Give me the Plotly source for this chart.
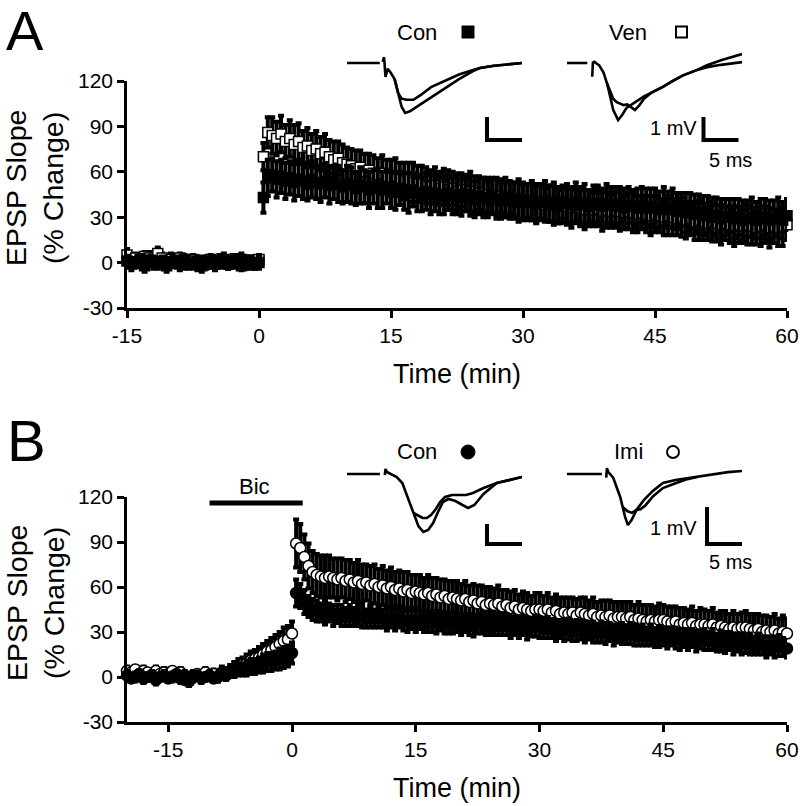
import plotly.graph_objects as go

W, H = 800, 806
FONT = "Arial, Liberation Sans, sans-serif"


def px_x(x):
    return x / W


def px_y(y):
    return 1 - y / H


#%% DATA - sampling times (min)
PRE_TIME_A = [-15, -14.5, -14, -13.5, -13, -12.5, -12, -11.5, -11, -10.5,
              -10, -9.5, -9, -8.5, -8, -7.5, -7, -6.5, -6, -5.5,
              -5, -4.5, -4, -3.5, -3, -2.5, -2, -1.5, -1, -0.5, 0]
PRE_TIME_B = [-20, -19.5, -19, -18.5, -18, -17.5, -17, -16.5, -16, -15.5] + PRE_TIME_A
POST_TIME = [0.5, 1, 1.5, 2, 2.5, 3, 3.5, 4, 4.5, 5,
             5.5, 6, 6.5, 7, 7.5, 8, 8.5, 9, 9.5, 10,
             10.5, 11, 11.5, 12, 12.5, 13, 13.5, 14, 14.5, 15,
             15.5, 16, 16.5, 17, 17.5, 18, 18.5, 19, 19.5, 20,
             20.5, 21, 21.5, 22, 22.5, 23, 23.5, 24, 24.5, 25,
             25.5, 26, 26.5, 27, 27.5, 28, 28.5, 29, 29.5, 30,
             30.5, 31, 31.5, 32, 32.5, 33, 33.5, 34, 34.5, 35,
             35.5, 36, 36.5, 37, 37.5, 38, 38.5, 39, 39.5, 40,
             40.5, 41, 41.5, 42, 42.5, 43, 43.5, 44, 44.5, 45,
             45.5, 46, 46.5, 47, 47.5, 48, 48.5, 49, 49.5, 50,
             50.5, 51, 51.5, 52, 52.5, 53, 53.5, 54, 54.5, 55,
             55.5, 56, 56.5, 57, 57.5, 58, 58.5, 59, 59.5, 60]

X_TICKS = [-15, 0, 15, 30, 45, 60]
X_TICK_TEXT = ["-15", "0", "15", "30", "45", "60"]
Y_TICKS = [-30, 0, 30, 60, 90, 120]
Y_TICK_TEXT = ["-30", "0", "30", "60", "90", "120"]

#%% PANEL A - Con (filled squares) / Ven (open squares), EPSP slope % change
A_CON_PRE = [1, -1, 0, 2, -2, 1, 0, -1, 1, -2, 0, 1, -1, 2, 0, -1,
             1, -2, 0, 1, -1, 0, 2, -1, 0, 1, -2, 1, 0, -1, 0]
A_CON_PRE_ERR = [3, 4, 3, 3, 4, 3, 4, 3, 3, 4, 3, 3, 4, 3, 4, 3,
                 3, 4, 3, 3, 4, 3, 4, 3, 3, 4, 3, 3, 4, 3, 4]
A_VEN_PRE = [5, 2, 3, 1, 4, 3, 2, 6, 3, 0, 2, 1, 3, 0, 1, 2,
             -1, 1, 0, 2, -1, 1, 0, -1, 1, 0, 2, -1, 1, 0, 2]
A_VEN_PRE_ERR = [4, 3, 3, 4, 3, 4, 3, 4, 3, 3, 4, 3, 3, 4, 3, 3,
                 4, 3, 4, 3, 3, 4, 3, 3, 4, 3, 4, 3, 3, 4, 3]

A_CON_POST = [43, 56, 58, 55, 57, 54, 56, 53, 55, 54,
              52, 55, 53, 52, 54, 51, 53, 52, 50, 52,
              51, 49, 51, 50, 48, 50, 49, 48, 50, 48,
              47, 49, 47, 46, 48, 46, 45, 47, 45, 46,
              44, 45, 46, 44, 45, 43, 45, 44, 42, 44,
              43, 42, 44, 42, 41, 43, 41, 42, 40, 41,
              40, 41, 39, 40, 41, 39, 40, 38, 40, 39,
              38, 40, 38, 39, 37, 39, 38, 37, 39, 38,
              37, 38, 36, 38, 37, 36, 38, 36, 37, 36,
              35, 37, 35, 36, 34, 35, 33, 34, 32, 33,
              31, 32, 30, 31, 29, 30, 31, 29, 30, 28,
              29, 30, 28, 29, 30, 28, 29, 30, 28, 31]
A_CON_POST_ERR = [10, 12, 11, 12, 11, 12, 11, 12, 11, 12,
                  11, 12, 11, 12, 11, 12, 11, 12, 11, 12,
                  12, 11, 12, 11, 12, 11, 13, 12, 11, 12,
                  12, 11, 12, 13, 11, 12, 11, 12, 13, 12,
                  12, 13, 11, 12, 13, 12, 11, 13, 12, 12,
                  13, 12, 11, 13, 12, 13, 12, 11, 13, 12,
                  12, 13, 12, 11, 13, 12, 13, 12, 11, 13,
                  12, 13, 12, 13, 11, 12, 13, 12, 13, 12,
                  13, 12, 13, 12, 11, 13, 12, 13, 12, 13,
                  12, 13, 12, 13, 12, 11, 13, 12, 13, 12,
                  13, 12, 13, 12, 13, 12, 11, 13, 12, 13,
                  12, 13, 12, 13, 12, 13, 12, 13, 12, 11]
A_VEN_POST = [70, 86, 84, 82, 85, 80, 82, 78, 80, 76,
              77, 74, 75, 72, 73, 70, 68, 69, 66, 65,
              64, 62, 63, 60, 61, 59, 58, 59, 57, 56,
              57, 55, 54, 55, 53, 52, 53, 51, 50, 51,
              49, 50, 48, 49, 47, 48, 46, 47, 45, 46,
              44, 45, 44, 43, 44, 42, 43, 41, 42, 40,
              41, 40, 39, 40, 38, 39, 38, 37, 38, 37,
              36, 37, 36, 35, 36, 35, 36, 34, 35, 34,
              35, 34, 33, 34, 33, 32, 33, 32, 31, 32,
              31, 30, 31, 30, 29, 30, 28, 29, 27, 28,
              27, 26, 27, 26, 25, 26, 25, 24, 25, 24,
              25, 24, 23, 24, 25, 23, 24, 23, 24, 25]
A_VEN_POST_ERR = [9, 10, 12, 11, 12, 11, 12, 13, 12, 11,
                  12, 11, 12, 11, 12, 11, 12, 11, 12, 11,
                  11, 12, 11, 12, 11, 12, 11, 12, 11, 12,
                  12, 11, 12, 11, 13, 12, 11, 12, 11, 12,
                  11, 12, 13, 11, 12, 11, 12, 13, 12, 11,
                  12, 11, 12, 13, 11, 12, 11, 12, 13, 12,
                  11, 12, 13, 12, 11, 12, 13, 11, 12, 12,
                  13, 11, 12, 13, 12, 11, 12, 13, 12, 11,
                  12, 13, 11, 12, 13, 12, 11, 12, 13, 12,
                  11, 12, 13, 12, 11, 13, 12, 11, 12, 13,
                  12, 11, 13, 12, 13, 11, 12, 13, 12, 11,
                  13, 12, 11, 13, 12, 13, 11, 12, 13, 10]

#%% PANEL B - Con (filled circles) / Imi (open circles), Bic applied -10 to 0 min
B_CON_PRE = [1, -1, 0, 2, -1, 0, 1, -2, 0, 1,
             -1, 0, 2, -1, 1, -2, 0, 1, -1, 0,
             1, -1, 0, 2, 1, 3, 4, 5, 5, 6,
             7, 7, 8, 9, 10, 10, 11, 12, 13, 14, 16]
B_CON_PRE_ERR = [3, 2, 3, 2, 3, 2, 3, 3, 2, 3,
                 2, 3, 2, 3, 3, 2, 3, 2, 3, 2,
                 3, 2, 3, 3, 3, 3, 4, 4, 4, 5,
                 5, 5, 5, 6, 6, 6, 6, 7, 7, 7, 7]
B_IMI_PRE = [4, 3, 5, 2, 4, 3, 1, 4, 2, 3,
             2, 4, 1, 3, -2, -3, 1, 2, 0, 3,
             1, 2, 0, 3, 2, 4, 5, 7, 8, 9,
             11, 12, 13, 15, 17, 18, 20, 22, 24, 25, 29]
B_IMI_PRE_ERR = [3, 3, 2, 3, 3, 2, 3, 3, 2, 3,
                 3, 2, 3, 3, 2, 3, 3, 2, 3, 3,
                 3, 3, 3, 4, 4, 4, 5, 5, 5, 6,
                 6, 6, 7, 7, 7, 8, 8, 8, 9, 9, 8]

B_CON_POST = [56, 54, 50, 47, 45, 44, 43, 42, 43, 41,
              42, 41, 40, 41, 40, 41, 40, 39, 40, 39,
              40, 39, 38, 39, 38, 39, 38, 37, 38, 37,
              38, 37, 36, 37, 36, 37, 36, 35, 36, 36,
              35, 36, 35, 34, 35, 36, 34, 35, 34, 35,
              34, 35, 33, 34, 33, 34, 32, 33, 34, 33,
              32, 33, 32, 31, 32, 31, 32, 30, 31, 31,
              30, 31, 30, 29, 30, 29, 30, 28, 29, 29,
              28, 29, 28, 27, 28, 27, 28, 26, 27, 27,
              26, 27, 26, 25, 26, 25, 26, 24, 25, 25,
              24, 25, 23, 24, 23, 24, 22, 23, 22, 22,
              22, 21, 22, 21, 20, 21, 20, 21, 20, 19]
B_CON_POST_ERR = [9, 8, 8, 7, 7, 7, 6, 7, 6, 7,
                  6, 7, 6, 7, 6, 7, 7, 6, 7, 6,
                  7, 6, 7, 6, 7, 6, 7, 7, 6, 7,
                  6, 7, 6, 7, 7, 6, 7, 6, 7, 6,
                  7, 6, 7, 7, 6, 7, 6, 7, 6, 7,
                  6, 7, 7, 6, 7, 6, 7, 6, 7, 7,
                  6, 7, 6, 7, 6, 7, 7, 6, 7, 6,
                  7, 6, 7, 6, 7, 7, 6, 7, 6, 7,
                  6, 7, 7, 6, 7, 6, 7, 6, 7, 6,
                  7, 6, 7, 7, 6, 7, 6, 7, 6, 7,
                  6, 7, 6, 7, 7, 6, 7, 6, 7, 6,
                  7, 6, 7, 6, 7, 6, 7, 7, 6, 6]
B_IMI_POST = [89, 86, 80, 74, 70, 68, 67, 66, 67, 66,
              65, 66, 64, 65, 63, 64, 62, 63, 61, 62,
              60, 61, 59, 60, 58, 59, 57, 58, 56, 57,
              56, 55, 56, 54, 55, 53, 54, 52, 53, 52,
              51, 52, 50, 51, 49, 50, 48, 49, 48, 49,
              47, 48, 46, 47, 45, 46, 45, 44, 45, 45,
              44, 45, 43, 44, 42, 43, 42, 43, 41, 43,
              42, 41, 42, 40, 41, 40, 41, 39, 40, 40,
              39, 40, 38, 39, 38, 37, 38, 37, 38, 38,
              37, 36, 37, 35, 36, 35, 36, 34, 35, 35,
              34, 35, 33, 34, 33, 32, 33, 32, 33, 33,
              32, 31, 32, 30, 31, 30, 31, 29, 30, 29]
B_IMI_POST_ERR = [16, 16, 15, 15, 14, 14, 14, 15, 14, 13,
                  14, 13, 14, 13, 13, 14, 13, 12, 13, 13,
                  12, 13, 12, 13, 12, 12, 13, 12, 12, 11,
                  12, 11, 12, 12, 11, 12, 11, 12, 11, 12,
                  11, 12, 11, 11, 12, 11, 12, 11, 11, 12,
                  11, 10, 11, 11, 10, 11, 11, 10, 11, 11,
                  10, 11, 10, 11, 11, 10, 11, 10, 11, 10,
                  11, 10, 11, 10, 10, 11, 10, 11, 10, 10,
                  11, 10, 10, 11, 10, 11, 10, 10, 11, 10,
                  10, 11, 10, 11, 10, 10, 11, 10, 11, 10,
                  10, 11, 10, 10, 11, 10, 11, 10, 10, 11,
                  10, 11, 10, 11, 10, 10, 11, 10, 11, 10]

BIC_WINDOW = [-10, 1.3]   # min
BIC_LEVEL = [116, 116]    # drawn above the data

#%% INSET WAVEFORMS (ms, mV) - baseline and post-induction traces
A_CON_W1_T = [0, 4.7, None, 5.1, 5.3, 5.5, 5.8, 6.2, 6.8, 7.3, 7.8, 8.3, 9.0,
              10, 11, 12, 14, 16, 18, 19, 21, 23, 25]
A_CON_W1_V = [0, 0, None, 0.05, 0.25, -0.6, -0.25, -0.4, -0.7, -1.3, -1.9, -2.17, -2.1,
              -1.9, -1.7, -1.5, -1.1, -0.7, -0.35, -0.22, -0.12, -0.05, 0.0]
A_CON_W2_T = [6.8, 7.3, 7.8, 8.5, 9.5, 10.5, 12, 14, 16, 18, 19, 21, 23, 25]
A_CON_W2_V = [-0.7, -1.3, -1.55, -1.6, -1.6, -1.4, -1.05, -0.78, -0.5, -0.3, -0.22, -0.12, -0.05, 0.0]

A_VEN_W1_T = [0, 2.9, None, 3.6, 3.7, 3.9, 4.6, 5.2, 5.7, 6.2, 6.6, 7.3, 7.9, 8.5, 9.2,
              10, 11, 12, 13.7, 15, 16.5, 18.6, 20, 22, 23.5, 25]
A_VEN_W1_V = [0, 0, None, -0.6, 0.02, 0.05, -0.1, -0.4, -0.87, -1.5, -2.04, -2.48, -2.25, -1.95, -1.8,
              -1.65, -1.45, -1.3, -1.04, -0.8, -0.55, -0.3, -0.1, 0.12, 0.27, 0.39]
A_VEN_W2_T = [5.7, 6.2, 6.6, 7.1, 7.6, 8.1, 8.6, 9.1, 9.7, 10.3, 11, 12, 13.7,
              15, 16.5, 18.6, 20, 22, 23.5, 25]
A_VEN_W2_V = [-0.87, -1.3, -1.55, -1.7, -1.75, -1.83, -1.8, -1.9, -2.04, -1.85, -1.55, -1.3, -1.04,
              -0.8, -0.55, -0.3, -0.18, -0.08, -0.02, 0.04]

B_CON_W1_T = [0, 4.7, None, 5.4, 5.5, 5.7, 6.3, 7.1, 7.9, 8.6, 9.5, 10.2, 10.9, 11.6, 12.3,
              13.0, 13.7, 14.5, 15.5, 16.5, 17.3, 18.2, 19.5, 21.4, 23, 25]
B_CON_W1_V = [0, 0, None, -0.05, 0.25, 0.1, 0.0, -0.15, -0.45, -1.15, -1.95, -2.6, -2.9, -2.8, -2.45,
              -1.9, -1.4, -1.25, -1.35, -1.55, -1.7, -1.55, -1.0, -0.45, -0.3, -0.15]
B_CON_W2_T = [9.5, 10.2, 10.8, 11.4, 12.0, 12.7, 13.3, 14.0, 15.0, 16.0, 17.0, 18.0,
              19.5, 21.4, 23, 25]
B_CON_W2_V = [-1.95, -2.1, -2.2, -2.2, -2.05, -1.75, -1.4, -1.15, -1.05, -1.05, -1.05, -0.95,
              -0.7, -0.45, -0.3, -0.15]

B_IMI_W1_T = [0, 5.0, None, 5.6, 5.7, 5.9, 6.6, 7.6, 8.3, 8.7, 9.2, 10, 11, 12.3, 13.7,
              15.5, 17, 18.6, 21, 23, 25]
B_IMI_W1_V = [0, 0, None, -0.1, 0.16, 0.05, -0.1, -0.62, -1.16, -1.38, -1.25, -0.95, -0.7, -0.45, -0.24,
              -0.16, -0.12, -0.08, 0.0, 0.05, 0.08]
B_IMI_W2_T = [8.0, 8.6, 9.3, 9.9, 10.5, 11.2, 12.3, 13.7, 15.5, 17, 18.6]
B_IMI_W2_V = [-0.9, -1.0, -1.05, -0.97, -0.95, -0.85, -0.6, -0.38, -0.25, -0.15, -0.08]

SCALE_MS = 5
SCALE_MV = 1

#%% FIGURE

fig = go.Figure()


def add_series(x, y, err, symbol, fill, xa, ya, size):
    fig.add_trace(
        go.Scatter(
            x=x,
            y=y,
            mode="markers",
            xaxis=xa,
            yaxis=ya,
            cliponaxis=False,
            marker=dict(symbol=symbol, size=size, color=fill,
                        line=dict(color="black", width=1.5)),
            error_y=dict(type="data", array=err, color="black", thickness=4, width=3),
            showlegend=False,
        )
    )


# panel A: Ven under Con
add_series(PRE_TIME_A + POST_TIME, A_VEN_PRE + A_VEN_POST, A_VEN_PRE_ERR + A_VEN_POST_ERR,
           "square", "white", "x", "y", 10)
add_series(PRE_TIME_A + POST_TIME, A_CON_PRE + A_CON_POST, A_CON_PRE_ERR + A_CON_POST_ERR,
           "square", "black", "x", "y", 10)
# panel B: Imi under Con
add_series(PRE_TIME_B + POST_TIME, B_IMI_PRE + B_IMI_POST, B_IMI_PRE_ERR + B_IMI_POST_ERR,
           "circle", "white", "x2", "y2", 11)
add_series(PRE_TIME_B + POST_TIME, B_CON_PRE + B_CON_POST, B_CON_PRE_ERR + B_CON_POST_ERR,
           "circle", "black", "x2", "y2", 11)

# Bic application bar
fig.add_trace(
    go.Scatter(x=BIC_WINDOW, y=BIC_LEVEL, mode="lines", xaxis="x2", yaxis="y2",
               cliponaxis=False, line=dict(color="black", width=5), showlegend=False)
)

# insets: (pixel box left/right, baseline px, px per mV, scale bar bottom px, scale bar start ms)
insets = [
    (347, 522, 63, 23, 140, 20, [(A_CON_W1_T, A_CON_W1_V), (A_CON_W2_T, A_CON_W2_V)]),
    (567, 742, 63, 23, 140, 19.5, [(A_VEN_W1_T, A_VEN_W1_V), (A_VEN_W2_T, A_VEN_W2_V)]),
    (347, 522, 474, 20, 544, 20, [(B_CON_W1_T, B_CON_W1_V), (B_CON_W2_T, B_CON_W2_V)]),
    (567, 742, 474, 37, 544, 20, [(B_IMI_W1_T, B_IMI_W1_V), (B_IMI_W2_T, B_IMI_W2_V)]),
]

layout_axes = {}
for i, (x0, x1, base, k, bar_px, bar_ms, waves) in enumerate(insets):
    n = i + 3
    top, bottom = base - 20, bar_px + 4
    layout_axes["xaxis%d" % n] = dict(domain=[px_x(x0), px_x(x1)], range=[0, 25],
                                      visible=False, automargin=False, anchor="y%d" % n)
    layout_axes["yaxis%d" % n] = dict(domain=[px_y(bottom), px_y(top)],
                                      range=[-(bottom - base) / k, (base - top) / k],
                                      visible=False, automargin=False, anchor="x%d" % n)
    for t, v in waves:
        fig.add_trace(go.Scatter(x=t, y=v, mode="lines", xaxis="x%d" % n, yaxis="y%d" % n,
                                 line=dict(color="black", width=2.6), showlegend=False,
                                 cliponaxis=False))
    bar_low = -(bar_px - base) / k
    fig.add_trace(go.Scatter(x=[bar_ms, bar_ms, bar_ms + SCALE_MS],
                             y=[bar_low + SCALE_MV, bar_low, bar_low],
                             mode="lines", xaxis="x%d" % n, yaxis="y%d" % n,
                             line=dict(color="black", width=4), showlegend=False,
                             cliponaxis=False))

axis_style = dict(
    showline=True, linewidth=2.5, linecolor="black", ticks="outside", ticklen=7,
    tickwidth=2.5, tickcolor="black", showgrid=False, zeroline=False, automargin=False,
    tickfont=dict(size=21, color="black", family=FONT),
)

fig.update_layout(
    width=W,
    height=H,
    margin=dict(l=0, r=0, t=0, b=0, autoexpand=False),
    plot_bgcolor="#FFFFFF",
    paper_bgcolor="#FFFFFF",
    font=dict(family=FONT, color="black"),
    xaxis=dict(domain=[px_x(127), px_x(787)], range=[-15, 60], anchor="y",
               tickvals=X_TICKS, ticktext=X_TICK_TEXT, **axis_style),
    yaxis=dict(domain=[px_y(308), px_y(81)], range=[-30, 120], anchor="x",
               tickvals=Y_TICKS, ticktext=Y_TICK_TEXT, **axis_style),
    xaxis2=dict(domain=[px_x(127), px_x(787)], range=[-20, 60], anchor="y2",
                tickvals=X_TICKS, ticktext=X_TICK_TEXT, **axis_style),
    yaxis2=dict(domain=[px_y(722), px_y(497)], range=[-30, 120], anchor="x2",
                tickvals=Y_TICKS, ticktext=Y_TICK_TEXT, **axis_style),
    **layout_axes,
)


def text(s, x, y, size, xanchor="center", angle=0):
    fig.add_annotation(text=s, x=px_x(x), y=px_y(y), xref="paper", yref="paper",
                       showarrow=False, xanchor=xanchor, yanchor="middle", textangle=angle,
                       font=dict(size=size, color="black", family=FONT))


# panel letters and axis titles
text("A", 25, 31, 56)
text("B", 26, 440, 58)
text("EPSP Slope<br>(% Change)", 35, 188, 28.5, angle=-90)
text("EPSP Slope<br>(% Change)", 35, 603, 28.5, angle=-90)
text("Time (min)", 457, 374, 27)
text("Time (min)", 457, 788, 27)

# inset labels
text("Con", 417, 32, 22)
text("Ven", 628, 32, 22)
text("Con", 417, 452, 22)
text("Imi", 628, 452, 22)
text("1 mV", 699, 128, 20, xanchor="right")
text("5 ms", 730, 160, 20)
text("1 mV", 699, 528, 20, xanchor="right")
text("5 ms", 730, 562, 20)
text("Bic", 254, 486, 22)

# legend symbols
fig.add_shape(type="rect", xref="paper", yref="paper", x0=px_x(462), x1=px_x(474),
              y0=px_y(38), y1=px_y(26), fillcolor="black", line=dict(color="black", width=1))
fig.add_shape(type="rect", xref="paper", yref="paper", x0=px_x(676), x1=px_x(687),
              y0=px_y(37.5), y1=px_y(26.5), fillcolor="white", line=dict(color="black", width=2))
fig.add_shape(type="circle", xref="paper", yref="paper", x0=px_x(461), x1=px_x(475),
              y0=px_y(459), y1=px_y(445), fillcolor="black", line=dict(color="black", width=1))
fig.add_shape(type="circle", xref="paper", yref="paper", x0=px_x(667), x1=px_x(679),
              y0=px_y(458), y1=px_y(446), fillcolor="white", line=dict(color="black", width=2))

# page body margin would push the fixed-size figure off the window
fig.write_html("out.html", config={"displayModeBar": False},
               post_script="document.body.style.margin = '0';")
